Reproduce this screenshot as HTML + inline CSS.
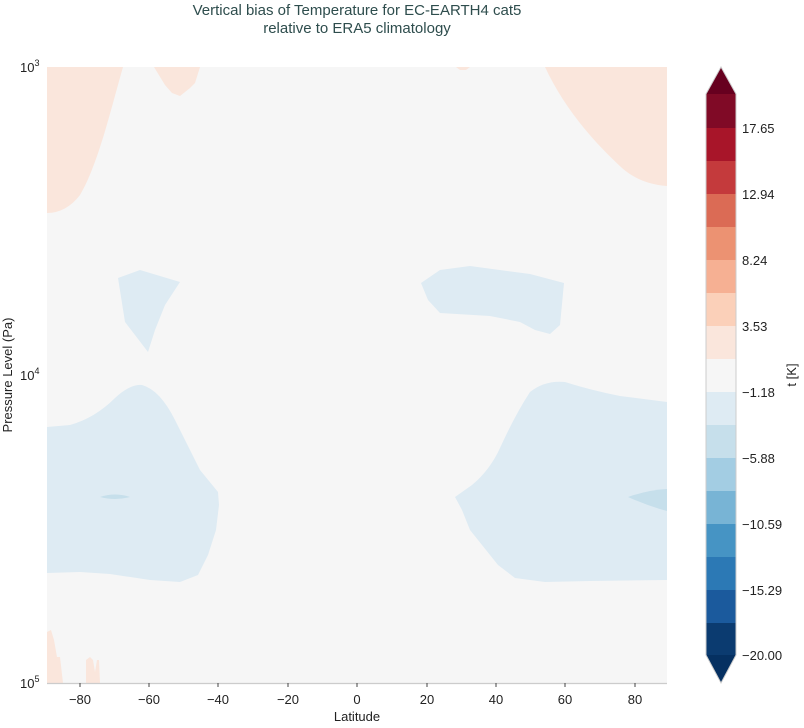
<!DOCTYPE html>
<html><head><meta charset="utf-8"><style>
body{margin:0;background:#fff;width:804px;height:723px;overflow:hidden}
svg text{font-family:"Liberation Sans",sans-serif}
</style></head><body>
<svg width="804" height="723" viewBox="0 0 804 723" xmlns="http://www.w3.org/2000/svg">
<text x="357" y="15" text-anchor="middle" font-size="15" fill="#2e4d4d">Vertical bias of Temperature for EC-EARTH4 cat5</text>
<text x="357" y="33" text-anchor="middle" font-size="15" fill="#2e4d4d">relative to ERA5 climatology</text>
<rect x="47" y="67" width="620" height="616" fill="#f6f6f6"/>
<g fill="#fae6dc">
<path d="M47,67 L123,67 C112,105 98,165 80,195 Q66,213 47,213 Z"/>
<path d="M154,67 L200,67 L195,83 L190,88 L180,96 L172,93 L165,85 Z"/>
<path d="M456,67 L470,67 L466,70 L460,70 Z"/>
<path d="M545,67 L667,67 L667,186 Q640,184 622,168 C595,143 565,110 545,67 Z"/>
<path d="M47,683 L47,632 L51,630 L54,640 L57,657 L60,657 L63,683 Z"/>
<path d="M86,683 L86,660 L90,657 L93,660 L95,672 L97,660 L99,660 L100,683 Z"/>
</g>
<g fill="#deebf3">
<path d="M118,278 L140,270 L180,282 L165,305 L155,330 L148,352 L135,335 L125,322 Z"/>
<path d="M421,283 L440,270 L470,266 L530,274 L564,283 L560,325 L550,334 L535,330 L520,322 L490,316 L440,313 L428,300 Z"/>
<path d="M47,427 L70,425 Q95,418 115,398 Q130,384 142,385 Q160,390 175,420 L200,470 L218,492 L219,505 L216,530 L208,555 L198,575 L180,582 L150,580 L110,574 L80,572 L47,573 Z"/>
<path d="M455,497 L472,485 Q490,470 500,448 Q515,415 530,392 Q545,380 565,382 Q590,390 620,396 L667,402 L667,580 L590,581 L545,582 L515,578 L498,565 L482,545 L470,530 L462,510 Z"/>
</g>
<g fill="#c6dfeb">
<path d="M100,497 Q115,492 130,497 Q115,501 100,497 Z"/>
<path d="M628,497 Q648,490 667,489 L667,511 Q648,506 628,497 Z"/>
</g>
<g stroke="#cccccc" stroke-width="1.2"><line x1="47" y1="683.5" x2="667" y2="683.5"/></g>
<g fill="#222" font-size="13" text-anchor="middle">
<text x="80" y="704">−80</text><text x="149" y="704">−60</text><text x="218" y="704">−40</text><text x="288" y="704">−20</text><text x="357" y="704">0</text><text x="427" y="704">20</text><text x="496" y="704">40</text><text x="565" y="704">60</text><text x="635" y="704">80</text>
<text x="357" y="721" font-size="13">Latitude</text>
</g>
<g stroke="#444" stroke-width="1"><line x1="80" y1="683" x2="80" y2="687"/><line x1="149" y1="683" x2="149" y2="687"/><line x1="218" y1="683" x2="218" y2="687"/><line x1="288" y1="683" x2="288" y2="687"/><line x1="357" y1="683" x2="357" y2="687"/><line x1="427" y1="683" x2="427" y2="687"/><line x1="496" y1="683" x2="496" y2="687"/><line x1="565" y1="683" x2="565" y2="687"/><line x1="635" y1="683" x2="635" y2="687"/></g>
<g fill="#222" font-size="13">
<text x="20" y="72">10<tspan font-size="9" dy="-6">3</tspan></text>
<text x="20" y="380">10<tspan font-size="9" dy="-6">4</tspan></text>
<text x="20" y="688">10<tspan font-size="9" dy="-6">5</tspan></text>
<text transform="translate(12,375) rotate(-90)" text-anchor="middle" font-size="13">Pressure Level (Pa)</text>
</g>
<g>
<polygon points="706,94 721,67 736,94" fill="#67001f"/>
<rect x="706" y="94" width="30" height="34" fill="#800a26"/>
<rect x="706" y="128" width="30" height="33" fill="#a81529"/>
<rect x="706" y="161" width="30" height="33" fill="#c43a3c"/>
<rect x="706" y="194" width="30" height="33" fill="#db6b55"/>
<rect x="706" y="227" width="30" height="33" fill="#ec9272"/>
<rect x="706" y="260" width="30" height="33" fill="#f6b093"/>
<rect x="706" y="293" width="30" height="33" fill="#fbd0b9"/>
<rect x="706" y="326" width="30" height="33" fill="#fae6dc"/>
<rect x="706" y="359" width="30" height="33" fill="#f6f6f6"/>
<rect x="706" y="392" width="30" height="33" fill="#deebf3"/>
<rect x="706" y="425" width="30" height="33" fill="#c6dfeb"/>
<rect x="706" y="458" width="30" height="33" fill="#a3cde3"/>
<rect x="706" y="491" width="30" height="33" fill="#78b4d5"/>
<rect x="706" y="524" width="30" height="33" fill="#4694c4"/>
<rect x="706" y="557" width="30" height="33" fill="#2c79b5"/>
<rect x="706" y="590" width="30" height="33" fill="#1b5a9d"/>
<rect x="706" y="623" width="30" height="32" fill="#0b3b70"/>
<polygon points="706,655 721,683 736,655" fill="#053061"/>
<polygon points="706,94 721,67 736,94 736,655 721,683 706,655" fill="none" stroke="#ccc" stroke-width="1"/>
</g>
<g fill="#222" font-size="13">
<text x="742" y="133">17.65</text><text x="742" y="199">12.94</text><text x="742" y="265">8.24</text><text x="742" y="331">3.53</text><text x="742" y="397">−1.18</text><text x="742" y="463">−5.88</text><text x="742" y="529">−10.59</text><text x="742" y="595">−15.29</text><text x="742" y="660">−20.00</text>
<text transform="translate(796,375) rotate(-90)" text-anchor="middle">t [K]</text>
</g>
</svg>
</body></html>
